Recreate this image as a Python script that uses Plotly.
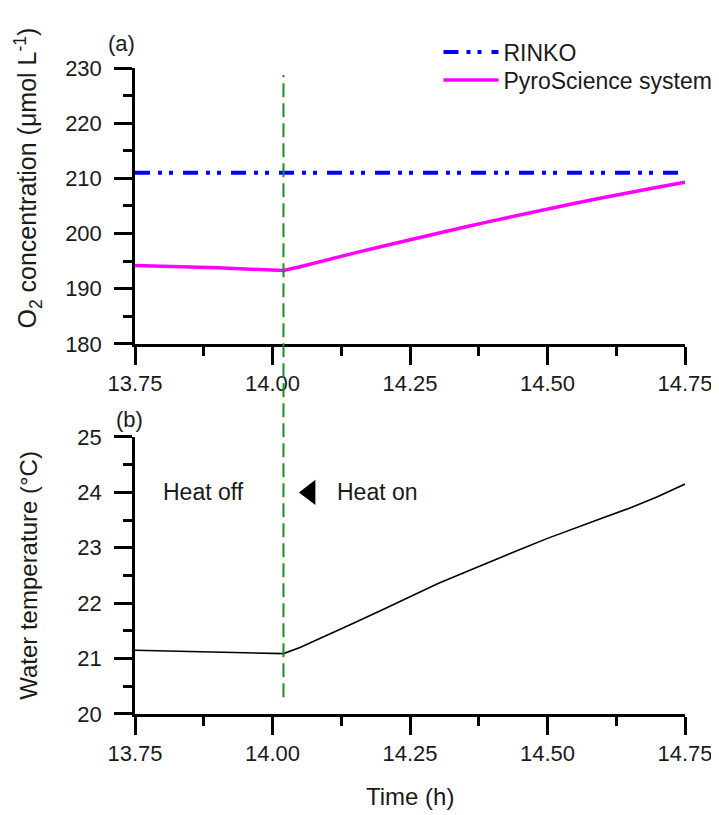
import plotly.graph_objects as go

# ---------------- data ----------------
heat_on_time = 14.02
rinko_time = [13.75, 14.75]
rinko_o2 = [211.0, 211.0]

pyro_time = [13.75, 13.80, 13.85, 13.90, 13.95, 14.00, 14.02, 14.05, 14.10, 14.15,
             14.20, 14.25, 14.30, 14.35, 14.40, 14.45, 14.50, 14.55, 14.60, 14.65,
             14.70, 14.75]
pyro_o2 = [194.2, 194.1, 194.0, 193.8, 193.6, 193.4, 193.3, 194.0, 195.3, 196.5,
           197.7, 198.9, 200.0, 201.2, 202.3, 203.4, 204.5, 205.5, 206.5, 207.5,
           208.4, 209.3]

temp_time = [13.75, 13.85, 13.95, 14.02, 14.05, 14.10, 14.15, 14.20, 14.25, 14.30,
             14.35, 14.40, 14.45, 14.50, 14.55, 14.60, 14.65, 14.70, 14.75]
water_temp = [21.15, 21.13, 21.10, 21.09, 21.20, 21.42, 21.65, 21.88, 22.12, 22.35,
              22.56, 22.77, 22.97, 23.17, 23.36, 23.54, 23.72, 23.92, 24.15]

x_ticks = [13.75, 14.00, 14.25, 14.50, 14.75]
o2_ticks = [180, 190, 200, 210, 220, 230]
temp_ticks = [20, 21, 22, 23, 24, 25]

FONT = "Liberation Sans, Arial, sans-serif"
TXT = "#1a1a1a"

fig = go.Figure()
fig.add_trace(go.Scatter(x=rinko_time, y=rinko_o2, mode="lines", name="RINKO",
                         line=dict(color="#0000FF", width=4,
                                   dash="15px,8px,4px,7px,4px,10px"),
                         xaxis="x", yaxis="y", legend="legend"))
fig.add_trace(go.Scatter(x=pyro_time, y=pyro_o2, mode="lines", name="PyroScience system",
                         line=dict(color="#FF00FF", width=3.5),
                         xaxis="x", yaxis="y", legend="legend2"))
fig.add_trace(go.Scatter(x=temp_time, y=water_temp, mode="lines", showlegend=False,
                         line=dict(color="black", width=1.6),
                         xaxis="x2", yaxis="y2"))
# arrow marker for "Heat on"
fig.add_trace(go.Scatter(x=[14.068], y=[24.0], mode="markers", showlegend=False,
                         marker=dict(symbol="triangle-left", size=22, color="black"),
                         xaxis="x2", yaxis="y2"))

axis_common = dict(showline=True, linecolor="black", linewidth=2.5, ticks="outside",
                   ticklen=18, tickwidth=2.5, tickcolor="black", showgrid=False,
                   zeroline=False, mirror=False,
                   tickfont=dict(family=FONT, size=22, color=TXT))

xcommon = dict(axis_common, range=[13.75, 14.75], tickvals=x_ticks, tickformat=".2f",
               minor=dict(ticks="outside", ticklen=9, tickwidth=2.5, tickcolor="black",
                          dtick=0.125, tick0=13.75))

leg_common = dict(xanchor="left", yanchor="middle", bgcolor="rgba(0,0,0,0)",
                  font=dict(family=FONT, size=23, color=TXT), itemwidth=55,
                  tracegroupgap=0)

fig.update_layout(
    width=711, height=807,
    margin=dict(l=127, r=34, t=60, b=101, autoexpand=False),
    paper_bgcolor="white", plot_bgcolor="white",
    font=dict(family=FONT, size=22, color=TXT),
    xaxis=dict(xcommon, domain=[0, 1], anchor="y"),
    yaxis=dict(axis_common, domain=[0.5728, 1], range=[180, 230], tickvals=o2_ticks,
               ticklabelstandoff=8,
               minor=dict(ticks="outside", ticklen=9, tickwidth=2.5, tickcolor="black",
                          dtick=5, tick0=180), anchor="x"),
    xaxis2=dict(xcommon, domain=[0, 1], anchor="y2"),
    yaxis2=dict(axis_common, domain=[0, 0.4288], range=[20, 25], tickvals=temp_ticks,
                ticklabelstandoff=8,
                minor=dict(ticks="outside", ticklen=9, tickwidth=2.5, tickcolor="black",
                           dtick=0.5, tick0=20), anchor="x2"),
    legend=dict(leg_common, x=0.5518, y=1.0248),
    legend2=dict(leg_common, x=0.5518, y=0.9814),
    showlegend=True,
)

# vertical green dashed line across both panels
fig.add_shape(type="line", xref="x", yref="paper", x0=heat_on_time, x1=heat_on_time,
              y0=0.026, y1=0.989, line=dict(color="#1E8C1E", width=2, dash="14px,6px"))

ann_font = dict(family=FONT, size=22, color=TXT)
fig.add_annotation(text="(a)", xref="paper", yref="paper", x=-0.025, y=1.038,
                   showarrow=False, font=ann_font, xanchor="center", yanchor="middle")
fig.add_annotation(text="(b)", xref="paper", yref="paper", x=-0.01, y=0.456,
                   showarrow=False, font=ann_font, xanchor="center", yanchor="middle")
fig.add_annotation(text="Heat off", xref="x2", yref="y2", x=13.875, y=24.0,
                   showarrow=False, font=dict(family=FONT, size=23, color=TXT),
                   xanchor="center", yanchor="middle")
fig.add_annotation(text="Heat on", xref="x2", yref="y2", x=14.113, y=24.0,
                   showarrow=False, font=dict(family=FONT, size=23, color=TXT),
                   xanchor="left", yanchor="middle")
fig.add_annotation(text="O<sub>2</sub> concentration (μmol L<sup>-1</sup>)",
                   xref="paper", yref="paper", x=-0.195, y=0.83, textangle=-90,
                   showarrow=False, font=dict(family=FONT, size=25, color=TXT),
                   xanchor="center", yanchor="middle")
fig.add_annotation(text="Water temperature (°C)",
                   xref="paper", yref="paper", x=-0.195, y=0.215, textangle=-90,
                   showarrow=False, font=dict(family=FONT, size=24, color=TXT),
                   xanchor="center", yanchor="middle")
fig.add_annotation(text="Time (h)", xref="paper", yref="paper", x=0.5, y=-0.128,
                   showarrow=False, font=dict(family=FONT, size=24, color=TXT),
                   xanchor="center", yanchor="middle")

fig.write_html("out.html")
